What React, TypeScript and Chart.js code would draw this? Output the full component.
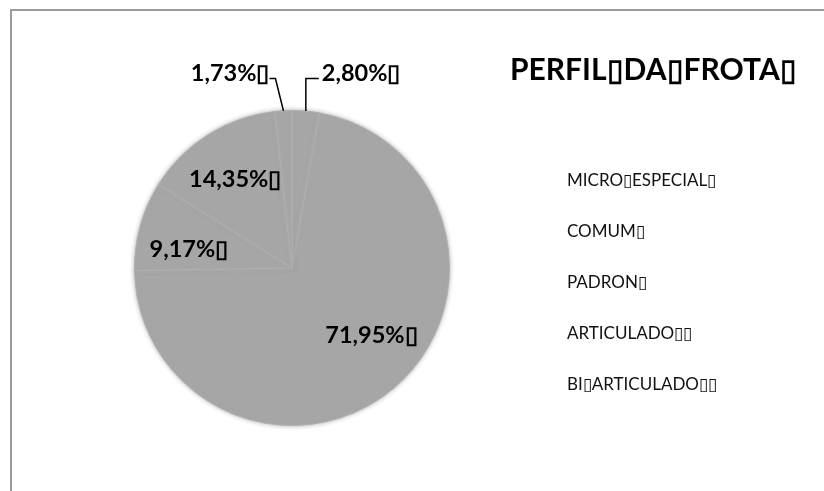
import React, { useEffect, useRef } from "react";
import { Chart, registerables } from "chart.js";

Chart.register(...registerables);

const BOX = "\u25AF";
const TITLE = `PERFIL${BOX}DA${BOX}FROTA${BOX}`;
const CATEGORIES = [
  `MICRO${BOX}ESPECIAL${BOX}`,
  `COMUM${BOX}`,
  `PADRON${BOX}`,
  `ARTICULADO${BOX}${BOX}`,
  `BI${BOX}ARTICULADO${BOX}${BOX}`,
];
const SHARES = [2.8, 71.95, 9.17, 14.35, 1.73];
const SLICE_COLORS = ["#a6a6a6", "#a6a6a6", "#a6a6a6", "#a6a6a6", "#a6a6a6"];

const fmt = (v: number) => `${v.toFixed(2).replace(".", ",")}%${BOX}`;

const LABEL_FONT = "bold 23.5px Lato, 'Noto Sans', sans-serif";

const decorPlugin = {
  id: "decor",
  beforeDatasetsDraw(chart: any) {
    const ctx = chart.ctx;
    ctx.save();
    ctx.shadowColor = "rgba(170,170,170,0.9)";
    ctx.shadowBlur = 4;
  },
  afterDatasetsDraw(chart: any) {
    const ctx = chart.ctx;
    ctx.restore();
    const meta = chart.getDatasetMeta(0);
    const values = chart.data.datasets[0].data as number[];
    ctx.save();
    ctx.font = LABEL_FONT;
    ctx.fillStyle = "#000";
    ctx.strokeStyle = "#000";
    ctx.lineWidth = 1.5;
    meta.data.forEach((arc: any, i: number) => {
      const p = arc.getProps(["x", "y", "startAngle", "endAngle", "outerRadius"], true);
      const mid = (p.startAngle + p.endAngle) / 2;
      const v = values[i];
      const text = fmt(v);
      if (v >= 5) {
        // inside label, nudged toward the lower half of the slice
        const rr = p.outerRadius * (v > 50 ? 0.66 : 0.68);
        const dx = v > 50 ? 12 : 0;
        const dy = v > 50 ? -12 : Math.abs(Math.cos(mid)) > 0.9 ? 10 : 2;
        ctx.textAlign = "center";
        ctx.textBaseline = "middle";
        ctx.fillText(text, p.x + Math.cos(mid) * rr + dx, p.y + Math.sin(mid) * rr + dy);
      } else {
        const ex = p.x + Math.cos(mid) * p.outerRadius;
        const ey = p.y + Math.sin(mid) * p.outerRadius;
        const left = Math.cos(mid) < 0;
        const elbowY = p.y - p.outerRadius - 32;
        const elbowX = left ? ex - 8 : ex;
        const endX = left ? elbowX - 6 : elbowX + 13;
        ctx.beginPath();
        ctx.moveTo(ex, ey);
        ctx.lineTo(elbowX, elbowY);
        ctx.lineTo(endX, elbowY);
        ctx.stroke();
        ctx.textBaseline = "middle";
        ctx.textAlign = left ? "right" : "left";
        ctx.fillText(text, left ? endX : endX + 3, elbowY - 5);
      }
    });
    // title and legend
    const area = chart.chartArea;
    ctx.textAlign = "left";
    ctx.textBaseline = "middle";
    ctx.font = "bold 30px Lato, 'Noto Sans', sans-serif";
    ctx.fillText(TITLE, area.right + 60, 59);
    ctx.font = "17px Lato, 'Noto Sans', sans-serif";
    ctx.fillStyle = "#111";
    const labels = chart.data.labels as string[];
    labels.forEach((l, i) => {
      ctx.fillText(l, area.right + 117, 170 + i * 50.8);
    });
    ctx.restore();
  },
};

export default function App() {
  const ref = useRef<HTMLCanvasElement>(null);
  useEffect(() => {
    if (!ref.current) return;
    const chart = new Chart(ref.current, {
      type: "pie",
      data: {
        labels: CATEGORIES,
        datasets: [
          {
            data: SHARES,
            backgroundColor: SLICE_COLORS,
            borderColor: "#afafaf",
            borderWidth: 1,
            hoverOffset: 0,
          },
        ],
      },
      options: {
        animation: false,
        responsive: false,
        events: [],
        layout: { padding: { left: 122, top: 99, right: 374, bottom: 65 } },
        plugins: {
          legend: { display: false },
          tooltip: { enabled: false },
          title: { display: false },
        },
      },
      plugins: [decorPlugin],
    });
    return () => chart.destroy();
  }, []);
  return (
    <div
      style={{
        position: "fixed",
        left: 10,
        top: 9,
        width: 830,
        height: 500,
        borderTop: "2px solid #9a9a9a",
        borderLeft: "2px solid #9a9a9a",
        overflow: "hidden",
      }}
    >
      <canvas ref={ref} width={812} height={480} style={{ display: "block" }} />
    </div>
  );
}
